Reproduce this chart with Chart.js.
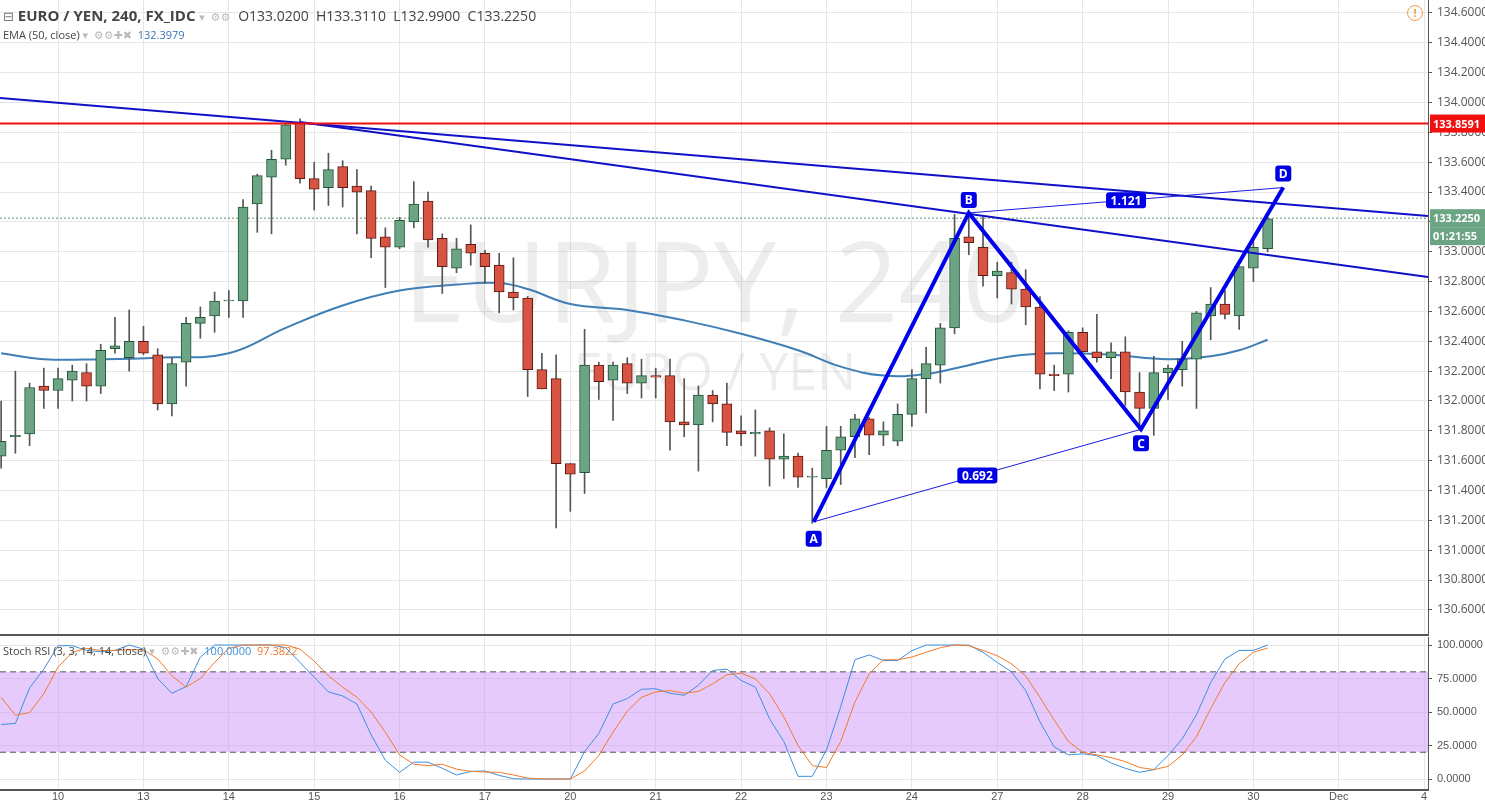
<!DOCTYPE html>
<html><head><meta charset="utf-8">
<script src="https://cdn.jsdelivr.net/npm/chart.js@4.4.1/dist/chart.umd.min.js"></script>
<style>
body{margin:0;background:#fff;width:1485px;height:803px;overflow:hidden;font-family:"Open Sans","DejaVu Sans",sans-serif;}
#c1{position:absolute;left:0;top:0;}
#c2{position:absolute;left:0;top:636px;}
.t{position:absolute;white-space:nowrap;color:#444;}
</style></head><body>
<canvas id="c1" width="1485" height="636"></canvas>
<canvas id="c2" width="1485" height="167"></canvas>
<div style="position:absolute;left:0;top:634px;width:1428px;height:2px;background:#555"></div>
<div class="t" style="left:3px;top:5px;font-size:15px;"><span style="font-size:13px;color:#777">⊟</span> <b>EURO / YEN, 240, FX_IDC</b> <span style="color:#bbb;font-size:11px">▾ &nbsp;⚙⚙</span>&nbsp; <span style="font-size:14px">O133.0200&nbsp; H133.3110&nbsp; L132.9900&nbsp; C133.2250</span></div>
<div class="t" style="left:3px;top:27px;font-size:11px;">EMA (50, close) <span style="color:#bbb">▾ &nbsp;⚙⚙✚✖</span>&nbsp; <span style="color:#3a75b0">132.3979</span></div>
<div class="t" style="left:3px;top:643px;font-size:11px;">Stoch RSI (3, 3, 14, 14, close) <span style="color:#bbb">▾ &nbsp;⚙⚙✚✖</span>&nbsp; <span style="color:#3d8fe0">100.0000</span>&nbsp; <span style="color:#f07a2a">97.3822</span></div>
<div style="position:absolute;left:1407px;top:5px;width:14px;height:14px;border:1.5px solid #f59b4b;border-radius:50%;color:#f59b4b;font-size:11px;text-align:center;line-height:14px;font-weight:bold">!</div>
<script>
const START = -4;
const OPEN = [131.63,131.76,131.78,132.1,132.07,132.14,132.19,132.1,132.35,132.29,
132.4,132.31,131.98,132.26,132.52,132.57,132.67,132.67,133.32,133.5,
133.62,133.86,133.49,133.43,133.57,133.44,133.41,133.1,133.03,133.2,
133.34,133.09,132.89,133.05,132.99,132.91,132.73,132.69,132.21,132.15,
131.58,131.52,132.24,132.14,132.25,132.12,132.17,132.17,131.86,131.84,
132.04,131.98,131.8,131.78,131.8,131.61,131.63,131.49,131.48,131.67,
131.76,131.88,131.77,131.73,131.91,132.15,132.24,132.49,133.1,133.03,
132.84,132.86,132.75,132.63,132.18,132.18,132.46,132.33,132.29,132.33,
132.06,131.95,132.19,132.21,132.28,132.57,132.65,132.57,132.89,133.02];
const HIGH = [132.0,132.2,132.12,132.22,132.22,132.24,132.25,132.38,132.56,132.61,
132.5,132.35,132.29,132.56,132.63,132.73,132.74,133.35,133.52,133.68,
133.86,133.89,133.6,133.66,133.61,133.55,133.44,133.16,133.23,133.47,
133.4,133.12,133.09,133.18,133.01,132.99,132.96,132.7,132.32,132.31,
131.58,132.48,132.26,132.26,132.29,132.28,132.22,132.28,132.15,132.1,
132.07,132.12,131.9,131.94,131.82,131.78,131.65,131.55,131.83,131.83,
131.91,131.89,131.86,131.98,132.21,132.36,132.52,133.25,133.25,133.23,
132.93,132.93,132.88,132.7,132.24,132.47,132.49,132.58,132.39,132.43,
132.19,132.3,132.24,132.4,132.6,132.76,132.74,132.9,133.07,133.23];
const LOW = [131.55,131.65,131.7,131.95,131.95,132.0,132.0,132.05,132.32,132.2,
132.31,131.94,131.9,132.1,132.42,132.46,132.56,132.56,133.13,133.12,
133.58,133.46,133.28,133.31,133.3,133.12,132.96,132.76,133.02,133.16,
133.03,132.72,132.86,132.91,132.79,132.59,132.61,132.03,132.08,131.15,
131.26,131.38,132.01,131.87,132.05,132.02,132.02,131.67,131.76,131.53,
131.86,131.7,131.7,131.63,131.43,131.48,131.42,131.18,131.42,131.44,
131.62,131.64,131.7,131.7,131.83,131.92,132.12,132.45,132.98,132.77,
132.69,132.65,132.51,132.08,132.07,132.06,132.32,132.26,132.15,131.97,
131.81,131.77,132.01,132.1,131.95,132.41,132.55,132.48,132.8,133.0];
const CLOSE = [131.73,131.77,132.09,132.07,132.15,132.2,132.1,132.34,132.37,132.4,
132.32,131.98,132.25,132.52,132.56,132.67,132.67,133.3,133.51,133.62,
133.85,133.49,133.42,133.55,133.43,133.4,133.09,133.03,133.21,133.32,
133.08,132.9,133.02,132.99,132.9,132.73,132.69,132.21,132.08,131.58,
131.51,132.24,132.13,132.24,132.12,132.17,132.16,131.86,131.84,132.04,
131.98,131.79,131.78,131.79,131.61,131.63,131.49,131.49,131.67,131.76,
131.88,131.77,131.8,131.91,132.15,132.25,132.49,133.09,133.06,132.84,
132.87,132.75,132.63,132.18,132.17,132.46,132.33,132.29,132.33,132.06,
131.95,132.19,132.22,132.28,132.59,132.65,132.58,132.9,133.03,133.22];
const EMA_IDX = [-4,-1,3,7,12,16,20,24,28,31,33,36,40,44,48,52,55,58,61,64,67,70,74,78,81,83,85];
const EMA_VAL = [132.32,132.28,132.28,132.29,132.32,132.49,132.64,132.74,132.78,132.79,132.75,132.65,132.61,132.54,132.45,132.34,132.23,132.17,132.18,132.24,132.3,132.32,132.31,132.28,132.3,132.34,132.41];
const STOCH_K = [40.7,41.5,68,82,99.5,99.5,96,95,96,100,
97,75,64,69,91,100,100,100,100,100,
98,87,76,65,62,56,33,14,5,12.6,
12.6,8,3,5.7,6,2.7,0.2,0,0,0,
0,20.5,34,56,60,67,67.4,64,62.5,70,
81,82,73.6,68.6,45,28,2,2,21.7,54,
89,92.6,88.4,88.4,95.8,100,100,100,100,94.6,
87,80,66,42.7,24,18,18.8,17.5,11.9,8,
5,7,17.5,30,48,72,89.6,96,96,100];
const STOCH_D = [61,47.6,49.6,63.7,83.5,94.6,97.5,96,96,96.5,
96.5,89.6,77,68.6,75,87,97.5,100,100,100,
100,97,88,77,68.6,61,50,35,18,11,
10,11,7.4,5.7,5.2,5,3,0.7,0,0,
0,6,17.5,35,50.6,61,65,66,64,65.4,
71,77.8,79,74.8,63.7,46.4,25,10,8.6,28,
57.5,78.5,89,89,91,94.6,98,100,99.5,96,
92,86,77,61,44,28,20,18,16,13,
8.6,7,9.4,18,31.6,52.6,72,86,94.6,97.8];
const DAY_IDX = [0,6,12,18,24,30,36,42,48,54,60,66,72,78,84,90,96];
const DAY_LBL = ['10','13','14','15','16','17','20','21','22','23','24','27','28','29','30','Dec','4'];
const PRICE_TICKS = [130.6,130.8,131.0,131.2,131.4,131.6,131.8,132.0,132.2,132.4,132.6,132.8,133.0,133.2,133.4,133.6,133.8,134.0,134.2,134.4,134.6];
const RESIST = 133.8591, LAST = 133.225;
const TREND1 = [[-4.08,134.03],[96.27,133.24]];
const TREND2 = [[17.0,133.87],[96.27,132.83]];
const PT_A=[53.1,131.19], PT_B=[64.0,133.26], PT_C=[76.1,131.81], PT_D=[86.1,133.43];
const RATIO_AC='0.692', RATIO_BD='1.121';
const XMIN=-4.08, XMAX=96.27;

const idx = OPEN.map((_,k)=>k+START);
const up = OPEN.map((o,k)=>CLOSE[k]>=o);
const GREEN='#6ba583', RED='#d75442', GB='#225437', RB='#5b1a13';
const bodies = idx.map((x,k)=>({x, y:[OPEN[k], Math.abs(CLOSE[k]-OPEN[k])<0.006?OPEN[k]+0.006:CLOSE[k]]}));
const wicks = idx.map((x,k)=>({x, y:[LOW[k],HIGH[k]]}));
const pts = a=>a.map(p=>({x:p[0],y:p[1]}));
const fixW = s=>{s.width=57;s.paddingTop=0;s.paddingBottom=0;};
const xTicks = s=>{s.ticks=DAY_IDX.map(v=>({value:v}));};

const overlay = {
 id:'overlay',
 beforeDatasetsDraw(c){
  const ctx=c.ctx;
  ctx.save();ctx.fillStyle='rgba(150,150,150,0.17)';ctx.textAlign='center';
  ctx.font='112px "Open Sans", sans-serif';ctx.fillText('EURJPY, 240',715,322);
  ctx.font='52px "Open Sans", sans-serif';ctx.fillText('EURO / YEN',715,390);
  ctx.restore();
 },
 afterDatasetsDraw(c){
  const ctx=c.ctx, X=c.scales.x, Y=c.scales.y;
  function box(txt,px,py,w){
   ctx.font='bold 12px "Open Sans", sans-serif';
   const tw=w||ctx.measureText(txt).width+8;
   ctx.fillStyle='#0000e6';
   ctx.beginPath();ctx.roundRect(px-tw/2,py-8,tw,16,3);ctx.fill();
   ctx.fillStyle='#fff';ctx.textAlign='center';ctx.textBaseline='middle';ctx.fillText(txt,px,py+1);
  }
  const P=p=>[X.getPixelForValue(p[0]),Y.getPixelForValue(p[1])];
  ctx.save();
  let a=P(PT_A),b=P(PT_B),cc=P(PT_C),d=P(PT_D);
  box('A',a[0],a[1]+17,16);box('B',b[0],b[1]-13,16);box('C',cc[0],cc[1]+14,16);box('D',d[0],d[1]-14,16);
  box(RATIO_AC,(a[0]+cc[0])/2,(a[1]+cc[1])/2,40);
  box(RATIO_BD,(b[0]+d[0])/2,(b[1]+d[1])/2,40);
  function tag(txt,val,col,dy){
   const py=Y.getPixelForValue(val)+(dy||0);
   ctx.fillStyle=col;ctx.fillRect(1430,py-9,55,18);
   ctx.fillStyle='#fff';ctx.font='bold 11px "Open Sans", sans-serif';ctx.textAlign='left';ctx.textBaseline='middle';
   ctx.fillText(txt,1433,py+1);
  }
  tag(RESIST.toFixed(4),RESIST,'#f01010');
  tag(LAST.toFixed(4),LAST,GREEN);
  tag('01:21:55',LAST,GREEN,18);
  ctx.restore();
 }
};

new Chart(document.getElementById('c1'),{
 type:'bar',
 data:{datasets:[
  {type:'line',data:[{x:XMIN,y:LAST},{x:XMAX,y:LAST}],borderColor:'#5f8f6f',borderWidth:1,borderDash:[2,2],pointRadius:0,order:9},
  {type:'line',data:EMA_IDX.map((x,k)=>({x,y:EMA_VAL[k]})),borderColor:'#3f7fb6',borderWidth:2,pointRadius:0,tension:0.4,order:8},
  {data:wicks,backgroundColor:'#555',barThickness:1,grouped:false,order:7},
  {data:bodies,backgroundColor:up.map(u=>u?GREEN:RED),borderColor:up.map(u=>u?GB:RB),borderWidth:1,borderSkipped:false,barThickness:10,grouped:false,order:6},
  {type:'line',data:[{x:XMIN,y:RESIST},{x:XMAX,y:RESIST}],borderColor:'#f01010',borderWidth:2,pointRadius:0,order:1},
  {type:'line',data:pts(TREND1),borderColor:'#1010c8',borderWidth:2,pointRadius:0,order:1},
  {type:'line',data:pts(TREND2),borderColor:'#1010c8',borderWidth:2,pointRadius:0,order:1},
  {type:'line',data:pts([PT_A,PT_C]),borderColor:'#1a1ae0',borderWidth:1,pointRadius:0,order:1},
  {type:'line',data:pts([PT_B,PT_D]),borderColor:'#1a1ae0',borderWidth:1,pointRadius:0,order:1},
  {type:'line',data:pts([PT_A,PT_B,PT_C,PT_D]),borderColor:'#0000ee',borderWidth:4,pointRadius:0,order:0}
 ]},
 options:{responsive:false,animation:false,layout:{padding:0},
  plugins:{legend:{display:false},tooltip:{enabled:false}},
  scales:{
   x:{type:'linear',offset:false,min:XMIN,max:XMAX,afterBuildTicks:xTicks,afterFit:s=>{s.height=0;s.paddingLeft=0;s.paddingRight=0;},ticks:{display:false},grid:{offset:false,color:'#e6e6e6',drawTicks:false},border:{display:false}},
   y:{position:'right',min:130.425,max:134.687,afterBuildTicks:s=>{s.ticks=PRICE_TICKS.map(v=>({value:v}));},afterFit:fixW,
      ticks:{callback:v=>v.toFixed(4),color:'#555',font:{size:12,family:'"Open Sans", sans-serif'},padding:5},
      grid:{color:'#e6e6e6',drawTicks:true,tickLength:4,tickColor:'#555'},border:{color:'#555',width:1}}
  }},
 plugins:[overlay]
});

const bandPlugin={id:'band',beforeDatasetsDraw(c){
 const ctx=c.ctx,a=c.chartArea,Y=c.scales.y;
 const y80=Y.getPixelForValue(80),y20=Y.getPixelForValue(20);
 ctx.save();ctx.fillStyle='rgba(205,150,250,0.5)';ctx.fillRect(a.left,y80,a.right-a.left,y20-y80);
 ctx.strokeStyle='#555';ctx.setLineDash([6,4]);ctx.lineWidth=1;
 [y80,y20].forEach(y=>{ctx.beginPath();ctx.moveTo(a.left,y);ctx.lineTo(a.right,y);ctx.stroke();});
 ctx.restore();
}};
new Chart(document.getElementById('c2'),{
 type:'line',
 data:{datasets:[
  {data:idx.map((x,k)=>({x,y:STOCH_D[k]})),borderColor:'#f07a2a',borderWidth:1,pointRadius:0},
  {data:idx.map((x,k)=>({x,y:STOCH_K[k]})),borderColor:'#3d8fe0',borderWidth:1,pointRadius:0}
 ]},
 options:{responsive:false,animation:false,layout:{padding:{top:1}},
  plugins:{legend:{display:false},tooltip:{enabled:false}},
  scales:{
   x:{type:'linear',min:XMIN,max:XMAX,afterBuildTicks:xTicks,afterFit:s=>{s.height=13;s.paddingLeft=0;s.paddingRight=0;},
      ticks:{callback:v=>DAY_LBL[DAY_IDX.indexOf(v)],color:'#555',font:{size:11},padding:0,maxRotation:0,autoSkip:false},
      grid:{color:'#e6e6e6',drawTicks:false},border:{color:'#555',width:2}},
   y:{position:'right',min:-8.2,max:106,afterBuildTicks:s=>{s.ticks=[0,25,50,75,100].map(v=>({value:v}));},afterFit:fixW,
      ticks:{callback:v=>v.toFixed(4),color:'#555',font:{size:11},padding:5},
      grid:{color:'#e6e6e6',tickLength:4,tickColor:'#555'},border:{color:'#555',width:1}}
  }},
 plugins:[bandPlugin]
});
</script></body></html>
